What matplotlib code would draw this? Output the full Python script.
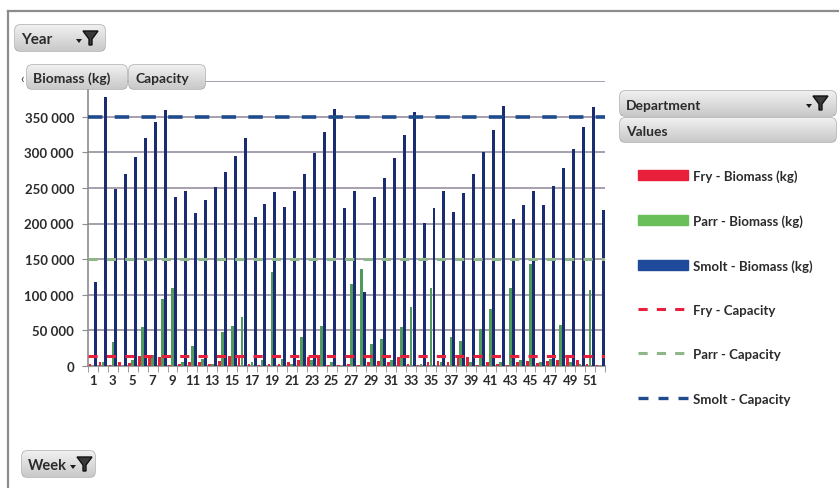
import numpy as np
import matplotlib.pyplot as plt
from matplotlib.patches import FancyBboxPatch, Polygon, Patch
from matplotlib.lines import Line2D
from matplotlib.ticker import FuncFormatter, FixedLocator

weeks = list(range(1, 53))

fry_biomass = [3000, 5000, 2000, 5000, 4000, 14000, 15000, 12000, 2000, 3000,
               5000, 6000, 3000, 7000, 14000, 15000, 3000, 2000, 3000, 3000,
               5000, 9000, 12000, 16000, 2000, 1000, 3000, 2000, 6000, 7000,
               5000, 12000, 3000, 2000, 5000, 7000, 5000, 12000, 13000, 2000,
               5000, 3000, 2000, 5000, 7000, 4000, 7000, 8000, 12000, 9000,
               3000, 2000]

parr_biomass = [0, 5000, 34000, 0, 8000, 55000, 15000, 94000, 110000, 5000,
                28000, 10000, 3000, 48000, 56000, 69000, 5000, 8000, 132000, 10000,
                3000, 41000, 8000, 56000, 5000, 0, 115000, 136000, 31000, 38000,
                8000, 55000, 83000, 3000, 110000, 5000, 41000, 35000, 5000, 52000,
                80000, 5000, 109000, 8000, 143000, 5000, 10000, 57000, 5000, 3000,
                107000, 0]

smolt_biomass = [118000, 378000, 249000, 270000, 293000, 320000, 342000, 359000, 237000, 246000,
                 215000, 233000, 251000, 272000, 295000, 320000, 209000, 227000, 244000, 223000,
                 246000, 270000, 299000, 329000, 361000, 222000, 246000, 104000, 237000, 264000,
                 292000, 324000, 357000, 201000, 222000, 246000, 216000, 243000, 270000, 300000,
                 331000, 365000, 206000, 226000, 246000, 226000, 253000, 278000, 305000, 336000,
                 364000, 219000]

fry_capacity = 14000
parr_capacity = 150000
smolt_capacity = 350000

labels = ["Fry - Biomass (kg)", "Parr - Biomass (kg)", "Smolt - Biomass (kg)",
          "Fry - Capacity", "Parr - Capacity", "Smolt - Capacity"]

FRY = "#e8203c"
PARR = "#4f9a5c"
SMOLT = "#1b2d72"
SMOLT_CAP = "#1f4a8c"
GRID = "#8e8698"
TXT = "#2b2b2b"

plt.rcParams['font.family'] = ['Lato', 'DejaVu Sans']

W, H = 839, 489
fig = plt.figure(figsize=(W / 100, H / 100), dpi=100)
ax = fig.add_axes([88 / W, 1 - 367 / H, (605 - 88) / W, (367 - 82) / H])

x = np.array(weeks)
ax.bar(x - 0.3, fry_biomass, 0.27, color=FRY, zorder=3)
ax.bar(x, parr_biomass, 0.27, color=PARR, zorder=3)
ax.bar(x + 0.3, smolt_biomass, 0.3, color=SMOLT, zorder=3)

ax.axhline(fry_capacity, color=FRY, lw=2.2, dashes=(3, 3), zorder=4)
ax.axhline(parr_capacity, color="#8fb58a", lw=2.2, dashes=(3, 3), zorder=4)
ax.axhline(smolt_capacity, color=SMOLT_CAP, lw=2.6, dashes=(4, 3.4), zorder=4)

ax.set_xlim(0.5, 52.5)
ax.set_ylim(0, 400000)
ax.set_yticks(range(0, 400001, 50000))
# top label sits under the field buttons
ax.yaxis.set_major_formatter(FuncFormatter(
    lambda v, p: "" if v >= 400000 else f"{int(v):,}".replace(",", " ")))
ax.set_xticks(weeks[::2])
ax.set_xticklabels([str(w) for w in weeks[::2]])
ax.xaxis.set_minor_locator(FixedLocator(np.arange(0.5, 53, 1)))
ax.tick_params(axis='x', which='major', length=0, pad=6, labelsize=9.5, labelcolor=TXT)
ax.tick_params(axis='x', which='minor', length=4, color="#8c8c8c")
ax.tick_params(axis='y', length=4, color="#8c8c8c", labelsize=9.5, labelcolor=TXT, pad=6)
for t in ax.get_xticklabels() + ax.get_yticklabels():
    t.set_fontweight('bold')

ax.grid(axis='y', color=GRID, lw=1.1)
ax.set_axisbelow(True)
for s in ['top', 'right']:
    ax.spines[s].set_visible(False)
for s in ['left', 'bottom']:
    ax.spines[s].set_color("#8c8c8c")
    ax.spines[s].set_linewidth(1.2)

handles = [Patch(color=FRY), Patch(color="#6abf5a"), Patch(color="#1f4a9c"),
           Line2D([], [], color=FRY, lw=2.2, dashes=(3, 3)),
           Line2D([], [], color="#8fb58a", lw=2.2, dashes=(3, 3)),
           Line2D([], [], color=SMOLT_CAP, lw=2.4, dashes=(3, 3))]
fig.legend(handles, labels, loc='upper left', bbox_to_anchor=(626 / W, 1 - 158 / H),
           frameon=False, handlelength=3.8, handleheight=0.8, labelspacing=2.45,
           handletextpad=0.4, prop={'weight': 'bold', 'size': 9.5}, labelcolor=TXT)

# overlay in pixel coordinates for the pivot field buttons
ov = fig.add_axes([0, 0, 1, 1], zorder=5)
ov.set_xlim(0, W)
ov.set_ylim(H, 0)
ov.axis('off')
ov.patch.set_visible(False)

ov.plot([8, 8], [12, H], color="#8c8c8c", lw=1.6)
ov.plot([8, W], [12, 12], color="#8c8c8c", lw=1.6)

grad = np.linspace(0, 1, 32).reshape(-1, 1)
btn_cmap = plt.matplotlib.colors.LinearSegmentedColormap.from_list("btn", ["#f0f0f0", "#c9c9c9"])


def button(x0, y0, x1, y1, text, size=10):
    p = FancyBboxPatch((x0, y0), x1 - x0, y1 - y0,
                       boxstyle="round,pad=0,rounding_size=5",
                       fc="#d8d8d8", ec="#a8a8a8", lw=1)
    ov.add_patch(p)
    im = ov.imshow(grad, cmap=btn_cmap, extent=(x0, x1, y1, y0), aspect='auto', zorder=1)
    im.set_clip_path(p)
    ov.text(x0 + 6, (y0 + y1) / 2 + 1, text, ha='left', va='center',
            fontsize=size, fontweight='bold', color=TXT, zorder=3)
    ov.set_xlim(0, W)
    ov.set_ylim(H, 0)


def funnel(cx, cy):
    ov.add_patch(Polygon([(cx - 7, cy - 7), (cx + 8, cy - 7), (cx + 2, cy + 1),
                          (cx + 2, cy + 7), (cx - 1, cy + 7), (cx - 1, cy + 1)],
                         closed=True, fc="#3a3a3a", ec="#111111", lw=1, zorder=4))
    ov.add_patch(Polygon([(cx - 14, cy + 1), (cx - 8, cy + 1), (cx - 11, cy + 5)],
                         closed=True, fc="#1a1a1a", ec="none", zorder=4))


button(15, 26, 105, 52, "Year", 11)
funnel(90, 39)
button(27, 66, 127, 90, "Biomass (kg)")
button(129, 66, 205, 90, "Capacity")
ov.text(22, 79, "‹", ha='center', va='center', fontsize=9, color=TXT)
button(620, 92, 836, 117, "Department")
funnel(820, 104)
button(620, 119, 836, 143, "Values")
button(22, 452, 95, 478, "Week", 10.5)
funnel(84, 465)

fig.savefig("out.png", dpi=100)
